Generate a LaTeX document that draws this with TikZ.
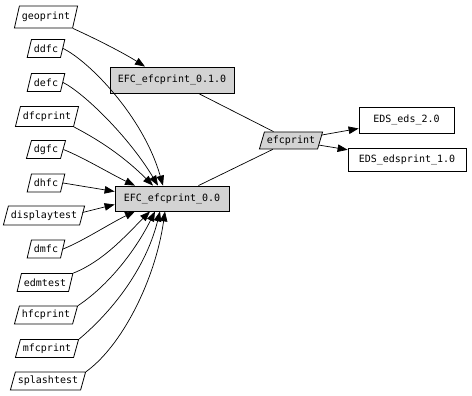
\documentclass[tikz,border=0pt]{standalone}
\usepackage{fontspec}
\setmonofont{DejaVu Sans Mono}
\usetikzlibrary{shapes.geometric,arrows.meta}
\definecolor{lgray}{HTML}{D3D3D3}
\begin{document}
\begin{tikzpicture}[x=1pt,y=1pt,
  font=\ttfamily\fontsize{10}{12}\selectfont,
  para/.style={trapezium, trapezium left angle=70, trapezium right angle=110, trapezium stretches=true, draw, line width=0.8pt, inner xsep=2.5pt, inner ysep=2pt, minimum height=18pt},
  boxnode/.style={rectangle, draw, line width=0.8pt, minimum height=25pt},
  edge/.style={line width=0.7pt},
  arr/.style={edge, -{Triangle[length=10pt,width=7.5pt]}},
]
\useasboundingbox (0,0) rectangle (472,396);
% left column
\node[para, minimum height=22pt] (geo) at (46,379) {geoprint};
\node[para] (ddfc) at (46,347.5) {ddfc};
\node[para] (defc) at (46,313.5) {defc};
\node[para, minimum height=20pt] (dfcp) at (47,279.5) {dfcprint};
\node[para] (dgfc) at (46,246.5) {dgfc};
\node[para] (dhfc) at (46,213) {dhfc};
\node[para, minimum height=19pt] (disp) at (44,180.5) {displaytest};
\node[para] (dmfc) at (46,147) {dmfc};
\node[para] (edm) at (45,113.5) {edmtest};
\node[para] (hfcp) at (46,81) {hfcprint};
\node[para] (mfcp) at (47,47.5) {mfcprint};
\node[para] (spl) at (48,15) {splashtest};
% boxes
\node[boxnode, fill=lgray, minimum width=124pt, minimum height=26pt] (e010) at (172,316) {EFC\_efcprint\_0.1.0};
\node[boxnode, fill=lgray, minimum width=114pt] (e00) at (172,197.5) {EFC\_efcprint\_0.0};
\node[para, fill=lgray, minimum height=17pt] (efc) at (291,255.5) {efcprint};
\node[boxnode, minimum width=95pt, minimum height=26pt] (eds) at (406.5,276) {EDS\_eds\_2.0};
\node[boxnode, minimum width=118pt, minimum height=23pt] (edsp) at (407,236.5) {EDS\_edsprint\_1.0};
% edges
\draw[arr] (geo.bottom right corner) .. controls +(22,-10) and +(-22,14) .. ([xshift=-27pt]e010.north);
\draw[edge] (e010) -- (efc);
\draw[edge] (e00) -- (efc);
\draw[arr] (efc) -- (eds);
\draw[arr] (efc) -- (edsp);
\draw[arr] (ddfc.east) .. controls +(25,-12) and +(-20,70) .. ([xshift=-9pt]e00.north);
\draw[arr] (defc.east) .. controls +(20,-10) and +(-30,50) .. ([xshift=-14pt]e00.north);
\draw[arr] (dfcp.bottom right corner) .. controls +(15,-8) and +(-35,35) .. ([xshift=-19pt]e00.north);
\draw[arr] (dgfc.east) .. controls +(20,-8) and +(-25,12) .. ([xshift=-37pt]e00.north);
\draw[arr] (dhfc.east) -- ([yshift=7pt]e00.west);
\draw[arr] ([yshift=3pt]disp.east) -- ([yshift=-6pt]e00.west);
\draw[arr] (dmfc.east) .. controls +(20,8) and +(-25,-12) .. ([xshift=-37pt]e00.south);
\draw[arr] (edm.top right corner) .. controls +(30,12) and +(-25,-25) .. ([xshift=-22pt]e00.south);
\draw[arr] (hfcp.top right corner) .. controls +(30,20) and +(-20,-40) .. ([xshift=-17pt]e00.south);
\draw[arr] (mfcp.top right corner) .. controls +(30,25) and +(-15,-60) .. ([xshift=-12pt]e00.south);
\draw[arr] (spl.top right corner) .. controls +(35,25) and +(-10,-70) .. ([xshift=-7pt]e00.south);
\end{tikzpicture}
\end{document}
